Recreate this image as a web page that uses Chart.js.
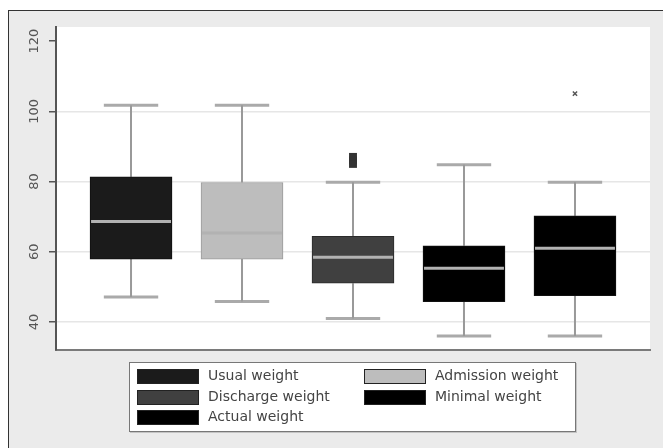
<!DOCTYPE html>
<html>
<head>
<meta charset="utf-8">
<script src="https://cdn.jsdelivr.net/npm/chart.js@4.4.1/dist/chart.umd.min.js"></script>
<style>
	body { margin: 0; background: #fff; }
	#frame { position: absolute; left: 8px; top: 10px; width: 655px; height: 438px; background: #ebebeb; border-left: 1px solid #333; border-top: 1px solid #333; }
	#chart { position: absolute; left: 0; top: 0; }
	#legend { position: absolute; left: 129px; top: 362px; width: 445px; height: 68px; background: #fff; border: 1px solid #777; box-shadow: 1px 1px 0 #c4c4c4; font-family: "DejaVu Sans", sans-serif; font-size: 14px; color: #444; }
	.item { position: absolute; height: 15px; }
	.sw { position: absolute; left: 0; top: 0; width: 60px; height: 13px; border: 1px solid #222; }
	.lb { position: absolute; left: 71px; top: -2px; line-height: 17px; white-space: nowrap; }
</style>
</head>
<body>
<div id="frame"></div>
<canvas id="chart" width="663" height="448"></canvas>
<div id="legend"></div>
<script>
// box plot values
var categories = ['Usual weight', 'Admission weight', 'Discharge weight', 'Minimal weight', 'Actual weight'];
var whiskerLow = [47.1, 45.8, 41.0, 36.0, 36.0];
var q1Values = [57.9, 57.9, 51.0, 45.8, 47.5];
var medianValues = [68.6, 65.3, 58.4, 55.3, 61.0];
var q3Values = [81.3, 79.7, 64.4, 61.7, 70.2];
var whiskerHigh = [101.7, 101.7, 79.8, 84.8, 79.8];
var outlierSeries = [2, 2, 2, 4];
var outlierValues = [85, 86, 87, 105];
var yTickValues = [40, 60, 80, 100, 120];

var boxColors = ['#1b1b1b', '#bdbdbd', '#404040', '#000000', '#000000'];
var boxBorders = ['#111', '#9a9a9a', '#2a2a2a', '#111', '#111'];
var outlierStyles = ['circle', 'circle', 'rect', 'circle', 'crossRot'];

var BOX_HALF = 0.36;
var CAP_HALF = 0.245;

var datasets = [];

// boxes
categories.forEach(function (name, i) {
	datasets.push({
		type: 'bar',
		label: name,
		data: [{ x: i + 1, y: [q1Values[i], q3Values[i]] }],
		backgroundColor: boxColors[i],
		borderColor: boxBorders[i],
		borderWidth: 1,
		borderSkipped: false,
		barThickness: 82,
		grouped: false,
		order: 2
	});
});

// whiskers, caps and medians
function segment(points, color, width, order) {
	return {
		type: 'line',
		data: points,
		borderColor: color,
		borderWidth: width,
		pointRadius: 0,
		fill: false,
		order: order
	};
}
categories.forEach(function (name, i) {
	var k = i + 1;
	datasets.push(segment([{ x: k, y: q3Values[i] }, { x: k, y: whiskerHigh[i] }], '#999', 2, 3));
	datasets.push(segment([{ x: k, y: q1Values[i] }, { x: k, y: whiskerLow[i] }], '#999', 2, 3));
	datasets.push(segment([{ x: k - CAP_HALF, y: whiskerHigh[i] }, { x: k + CAP_HALF, y: whiskerHigh[i] }], '#aaa', 3, 3));
	datasets.push(segment([{ x: k - CAP_HALF, y: whiskerLow[i] }, { x: k + CAP_HALF, y: whiskerLow[i] }], '#aaa', 3, 3));
	datasets.push(segment([{ x: k - BOX_HALF, y: medianValues[i] }, { x: k + BOX_HALF, y: medianValues[i] }], '#b2b2b2', 3, 1));
});

// outliers
categories.forEach(function (name, i) {
	var pts = [];
	outlierSeries.forEach(function (s, j) {
		if (s === i) pts.push({ x: i + 1, y: outlierValues[j] });
	});
	if (!pts.length) return;
	var isCross = outlierStyles[i] === 'crossRot';
	datasets.push({
		type: 'scatter',
		data: pts,
		pointStyle: outlierStyles[i],
		pointRadius: isCross ? 3 : 5.6,
		backgroundColor: isCross ? '#555' : '#333',
		borderColor: isCross ? '#555' : '#333',
		borderWidth: isCross ? 1.5 : 0,
		order: 1
	});
});

var plotBackground = {
	id: 'plotBackground',
	beforeDraw: function (chart) {
		var a = chart.chartArea;
		chart.ctx.save();
		chart.ctx.fillStyle = '#ffffff';
		chart.ctx.fillRect(a.left, a.top, a.right - a.left, a.bottom - a.top);
		chart.ctx.restore();
	}
};

new Chart(document.getElementById('chart').getContext('2d'), {
	type: 'bar',
	data: { datasets: datasets },
	plugins: [plotBackground],
	options: {
		responsive: false,
		animation: false,
		layout: { padding: { top: 27, right: 13, left: 0, bottom: 0 } },
		plugins: {
			legend: { display: false },
			tooltip: { enabled: false }
		},
		scales: {
			x: {
				type: 'linear',
				min: 0.324,
				max: 5.676,
				offset: false,
				ticks: { display: false },
				grid: { display: false, offset: false },
				border: { color: '#7a7a7a', width: 2 },
				afterFit: function (s) { s.height = 98; }
			},
			y: {
				type: 'linear',
				min: 32,
				max: 124,
				afterBuildTicks: function (s) {
					s.ticks = yTickValues.map(function (v) { return { value: v }; });
				},
				ticks: {
					minRotation: 90,
					maxRotation: 90,
					crossAlign: 'center',
					padding: 2,
					color: '#555',
					font: { family: 'DejaVu Sans', size: 13 }
				},
				grid: {
					color: function (ctx) {
						return ctx.tick && ctx.tick.value === 120 ? 'rgba(0,0,0,0)' : '#e6e6e6';
					},
					lineWidth: 1.5,
					tickLength: 7,
					tickColor: '#555',
					tickWidth: 1.5
				},
				border: { color: '#555', width: 2 },
				afterFit: function (s) { s.width = 56; }
			}
		}
	}
});

// legend, two columns filled row by row
var legend = document.getElementById('legend');
categories.forEach(function (name, i) {
	var item = document.createElement('div');
	item.className = 'item';
	item.style.left = (i % 2 === 0 ? 7 : 234) + 'px';
	item.style.top = (6 + Math.floor(i / 2) * 20.5) + 'px';
	item.innerHTML = '<div class="sw" style="background:' + boxColors[i] + '"></div><div class="lb">' + name + '</div>';
	legend.appendChild(item);
});
</script>
</body>
</html>
